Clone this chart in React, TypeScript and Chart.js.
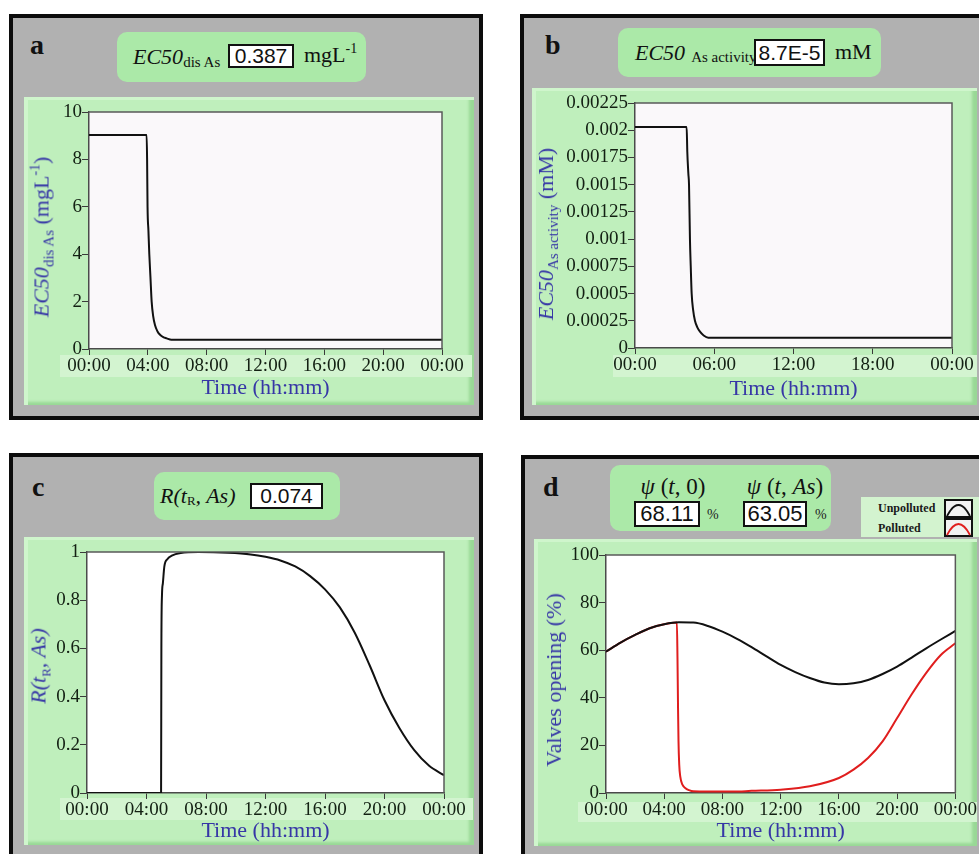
import React, { useEffect, useRef } from "react";
import { Chart, registerables } from "chart.js";

Chart.register(...registerables);

const SERIF = '"Liberation Serif", "Times New Roman", Times, serif';
const SANS = '"Liberation Sans", Arial, "DejaVu Sans", sans-serif';
const BLUE = "#3636a6";
const TICK_COLOR = "#132013";
const GRAY = "#b1b1b1";
const TITLE_GREEN = "#abe9a8";
const FRAME_GREEN = "#bfefbc";
const BAND_GREEN = "#d3f4d0";

// ---------- shared axis data ----------
const ticks4h = [0, 4, 8, 12, 16, 20, 24];
const labels4h = ["00:00", "04:00", "08:00", "12:00", "16:00", "20:00", "00:00"];
const ticks6h = [0, 6, 12, 18, 24];
const labels6h = ["00:00", "06:00", "12:00", "18:00", "00:00"];

// ---------- panel a ----------
const aHours = [0, 3.92, 3.95, 3.98, 4.04, 4.1, 4.18, 4.26, 4.36, 4.49, 4.65, 4.83, 5.05, 5.28, 5.6, 24];
const aEC50 = [9.03, 9.03, 8.0, 6.0, 5.0, 4.0, 3.0, 2.0, 1.4, 1.0, 0.75, 0.6, 0.5, 0.45, 0.39, 0.39];
const aYTicks = [0, 2, 4, 6, 8, 10];
const aYLabels = ["0", "2", "4", "6", "8", "10"];

// ---------- panel b ----------
const bHours = [0, 3.91, 3.96, 4.04, 4.09, 4.16, 4.22, 4.29, 4.4, 4.54, 4.72, 4.92, 5.2, 5.55, 24];
const bEC50 = [0.00203, 0.00203, 0.0018, 0.0016, 0.0015, 0.001, 0.00075, 0.0005, 0.00035, 0.00025, 0.00019, 0.00015, 0.000115, 0.0000946, 0.0000946];
const bYTicks = [0, 0.00025, 0.0005, 0.00075, 0.001, 0.00125, 0.0015, 0.00175, 0.002, 0.00225];
const bYLabels = ["0", "0.00025", "0.0005", "0.00075", "0.001", "0.00125", "0.0015", "0.00175", "0.002", "0.00225"];

// ---------- panel c ----------
const cHours = [0, 4.98, 5.0, 5.04, 5.1, 5.2, 5.4, 5.7, 6.3, 7.5, 9.5, 11, 12, 13, 14, 15, 16, 17, 18, 19, 20, 21, 22, 23, 24];
const cR = [0, 0, 0.6, 0.82, 0.87, 0.94, 0.97, 0.985, 0.996, 1.0, 0.997, 0.99, 0.98, 0.965, 0.94, 0.9, 0.845, 0.77, 0.665, 0.53, 0.385, 0.27, 0.178, 0.113, 0.074];
const cYTicks = [0, 0.2, 0.4, 0.6, 0.8, 1];
const cYLabels = ["0", "0.2", "0.4", "0.6", "0.8", "1"];

// ---------- panel d ----------
const dHours = [0, 1, 2, 3, 4, 5, 6, 7, 8, 9, 10, 11, 12, 13, 14, 15, 16, 17, 18, 19, 20, 21, 22, 23, 24];
const dUnpolluted = [59.4, 63.2, 66.4, 69.2, 70.9, 71.7, 71.6, 70.2, 67.8, 64.8, 61.3, 57.5, 53.8, 50.8, 48.3, 46.4, 45.7, 46.1, 47.5, 50.0, 53.1, 56.9, 60.8, 64.5, 68.1];
const dPollutedHours = [0, 1, 2, 3, 4, 4.87, 4.91, 4.95, 4.98, 5.03, 5.1, 5.25, 5.44, 5.7, 6, 7, 8.75, 10, 12, 14, 16, 17, 18, 19, 20, 21, 22, 23, 24];
const dPolluted = [59.4, 63.2, 66.4, 69.2, 70.9, 71.6, 57, 35, 22, 12, 7, 3.5, 2.1, 1.2, 0.7, 0.6, 0.6, 0.9, 1.4, 2.8, 6.3, 9.8, 14.7, 21.7, 31.5, 41.5, 50.5, 58, 62.9];
const dYTicks = [0, 20, 40, 60, 80, 100];
const dYLabels = ["0", "20", "40", "60", "80", "100"];

// ---------- chart plumbing ----------
type Series = { x: number[]; y: number[]; color: string };
type Spec = {
  left: number; top: number; width: number; height: number;
  series: Series[];
  xTicks: number[]; xLabels: string[];
  yTicks: number[]; yLabels: string[]; yMax: number;
  yAxisWidth: number; xAxisHeight: number; padTop: number; padRight: number;
  titlePad: number; plotBg: string;
};

const plotFrame = {
  id: "plotFrame",
  beforeDraw(chart: any, _a: any, opts: any) {
    const { ctx, chartArea: ca } = chart;
    ctx.save();
    ctx.fillStyle = opts.bg || "#fff";
    ctx.fillRect(ca.left, ca.top, ca.right - ca.left, ca.bottom - ca.top);
    ctx.restore();
  },
  afterDraw(chart: any) {
    const { ctx, chartArea: ca } = chart;
    ctx.save();
    ctx.strokeStyle = "#595959";
    ctx.lineWidth = 1.5;
    ctx.beginPath();
    ctx.moveTo(ca.left, ca.top);
    ctx.lineTo(ca.right, ca.top);
    ctx.lineTo(ca.right, ca.bottom);
    ctx.stroke();
    ctx.restore();
  },
};

function buildConfig(spec: Spec): any {
  const tickFont = { family: SERIF, size: 19 };
  return {
    type: "line",
    data: {
      datasets: spec.series.map((s) => ({
        data: s.x.map((x, i) => ({ x, y: s.y[i] })),
        borderColor: s.color,
        borderWidth: 2,
        pointRadius: 0,
        fill: false,
        cubicInterpolationMode: "monotone",
      })),
    },
    options: {
      animation: false,
      responsive: false,
      maintainAspectRatio: false,
      events: [],
      layout: { padding: { left: 0, top: spec.padTop, right: spec.padRight, bottom: 0 } },
      plugins: {
        legend: { display: false },
        tooltip: { enabled: false },
        plotFrame: { bg: spec.plotBg },
      },
      scales: {
        x: {
          type: "linear",
          min: 0,
          max: 24,
          afterBuildTicks: (s: any) => {
            s.ticks = spec.xTicks.map((v) => ({ value: v }));
          },
          afterFit: (s: any) => {
            s.height = spec.xAxisHeight;
          },
          ticks: {
            callback: (_v: any, i: number) => spec.xLabels[i],
            autoSkip: false,
            maxRotation: 0,
            color: TICK_COLOR,
            font: tickFont,
            padding: 0,
          },
          grid: { drawOnChartArea: false, drawTicks: true, tickLength: 6, color: "#3a3a3a", lineWidth: 1 },
          border: { display: true, color: "#4a4a4a", width: 1.5 },
          title: {
            display: true,
            text: "Time (hh:mm)",
            color: BLUE,
            font: { family: SERIF, size: 22 },
            padding: { top: 0, bottom: spec.titlePad },
          },
        },
        y: {
          type: "linear",
          min: 0,
          max: spec.yMax,
          afterBuildTicks: (s: any) => {
            s.ticks = spec.yTicks.map((v) => ({ value: v }));
          },
          afterFit: (s: any) => {
            s.width = spec.yAxisWidth;
          },
          ticks: {
            callback: (_v: any, i: number) => spec.yLabels[i],
            color: TICK_COLOR,
            font: tickFont,
            padding: 0,
          },
          grid: { drawOnChartArea: false, drawTicks: true, tickLength: 7, color: "#3a3a3a", lineWidth: 1 },
          border: { display: true, color: "#4a4a4a", width: 1.5 },
        },
      },
    },
    plugins: [plotFrame],
  };
}

function LineChart({ spec }: { spec: Spec }) {
  const ref = useRef<HTMLCanvasElement>(null);
  useEffect(() => {
    const chart = new Chart(ref.current as HTMLCanvasElement, buildConfig(spec));
    return () => chart.destroy();
  }, []);
  return (
    <canvas
      ref={ref}
      width={spec.width}
      height={spec.height}
      style={{ position: "absolute", left: spec.left, top: spec.top, width: spec.width, height: spec.height }}
    />
  );
}

// ---------- specs ----------
const specA: Spec = {
  left: 24, top: 97, width: 450, height: 308,
  series: [{ x: aHours, y: aEC50, color: "#111" }],
  xTicks: ticks4h, xLabels: labels4h, yTicks: aYTicks, yLabels: aYLabels, yMax: 10,
  yAxisWidth: 65, xAxisHeight: 56, padTop: 15, padRight: 32, titlePad: 4, plotBg: "#faf8fa",
};
const specB: Spec = {
  left: 532, top: 88, width: 445, height: 317,
  series: [{ x: bHours, y: bEC50, color: "#111" }],
  xTicks: ticks6h, xLabels: labels6h, yTicks: bYTicks, yLabels: bYLabels, yMax: 0.00225,
  yAxisWidth: 103, xAxisHeight: 57, padTop: 15, padRight: 25, titlePad: 3, plotBg: "#faf8fa",
};
const specC: Spec = {
  left: 24, top: 537, width: 450, height: 308,
  series: [{ x: cHours, y: cR, color: "#111" }],
  xTicks: ticks4h, xLabels: labels4h, yTicks: cYTicks, yLabels: cYLabels, yMax: 1,
  yAxisWidth: 63, xAxisHeight: 52, padTop: 15, padRight: 30, titlePad: 1, plotBg: "#ffffff",
};
const specD: Spec = {
  left: 534, top: 539, width: 443, height: 307,
  series: [
    { x: dHours, y: dUnpolluted, color: "#111" },
    { x: dPollutedHours, y: dPolluted, color: "#e01e1e" },
  ],
  xTicks: ticks4h, xLabels: labels4h, yTicks: dYTicks, yLabels: dYLabels, yMax: 100,
  yAxisWidth: 72, xAxisHeight: 53, padTop: 16, padRight: 21, titlePad: 2, plotBg: "#ffffff",
};

// ---------- html helpers ----------
const abs = (left: number, top: number, width?: number, height?: number): React.CSSProperties => ({
  position: "absolute", left, top, width, height,
});

function Outer({ left, top, width, height }: { left: number; top: number; width: number; height: number }) {
  return (
    <div style={{ ...abs(left, top, width, height), boxSizing: "border-box", border: "4px solid #0c0c0c", background: GRAY }} />
  );
}

function Frame({ left, top, width, height }: { left: number; top: number; width: number; height: number }) {
  return (
    <div
      style={{
        ...abs(left, top, width, height),
        background: FRAME_GREEN,
        boxShadow: "inset 4px 3px 0 #cff5cc, inset -5px -3px 3px #98d895",
      }}
    />
  );
}

function Band({ left, top, width, height }: { left: number; top: number; width: number; height: number }) {
  return <div style={{ ...abs(left, top, width, height), background: BAND_GREEN }} />;
}

function ValueBox({ left, top, width, height, text, size }: { left: number; top: number; width: number; height: number; text: string; size: number }) {
  return (
    <div
      style={{
        ...abs(left, top, width, height),
        boxSizing: "border-box",
        border: "2px solid #111",
        background: "#fff",
        fontFamily: SANS,
        fontSize: size,
        lineHeight: `${height - 4}px`,
        textAlign: "center",
        color: "#111",
        whiteSpace: "nowrap",
      }}
    >
      {text}
    </div>
  );
}

function YTitle({ cx, cy, children }: { cx: number; cy: number; children: React.ReactNode }) {
  return (
    <div
      style={{
        position: "absolute",
        left: cx,
        top: cy,
        transform: "translate(-50%, -50%) rotate(-90deg)",
        whiteSpace: "nowrap",
        color: BLUE,
        fontFamily: SERIF,
        fontSize: 22,
        lineHeight: "24px",
      }}
    >
      {children}
    </div>
  );
}

function PanelLetter({ left, baseline, text }: { left: number; baseline: number; text: string }) {
  return (
    <div style={{ ...abs(left, baseline - 25), fontFamily: SERIF, fontWeight: "bold", fontSize: 28, lineHeight: "30px", color: "#111" }}>
      {text}
    </div>
  );
}

const sub = (text: string, size = 15, top = 5): React.ReactNode => (
  <span style={{ fontSize: size, position: "relative", top, fontStyle: "normal" }}>{text}</span>
);

function LegendIcon({ left, top, color }: { left: number; top: number; color: string }) {
  return (
    <svg style={{ position: "absolute", left, top }} width={29} height={19} viewBox="0 0 29 19">
      <rect x={1} y={1} width={27} height={17} fill="#f2f2f2" stroke="#111" strokeWidth={2} />
      <path d="M3 17 Q14.5 -5 26 17" fill="none" stroke={color} strokeWidth={1.8} />
    </svg>
  );
}

export default function App() {
  return (
    <div style={{ position: "absolute", left: 0, top: 0, width: 979, height: 854, overflow: "hidden", background: "#fff", fontFamily: SERIF }}>
      {/* ---------------- panel a ---------------- */}
      <Outer left={9} top={14} width={474} height={406} />
      <PanelLetter left={30} baseline={55} text="a" />
      <div style={{ ...abs(117, 32, 249, 50), background: TITLE_GREEN, borderRadius: 10, display: "flex", alignItems: "center", paddingLeft: 16, boxSizing: "border-box", fontSize: 22, color: "#111" }}>
        <span style={{ fontStyle: "italic" }}>EC50</span>
        {sub("dis As")}
      </div>
      <ValueBox left={228} top={44} width={66} height={24} text="0.387" size={21} />
      <div style={{ ...abs(304, 41), fontSize: 22, lineHeight: "28px", color: "#111", whiteSpace: "nowrap" }}>
        mgL<span style={{ fontSize: 14, position: "relative", top: -9 }}>-1</span>
      </div>
      <Frame left={24} top={97} width={450} height={308} />
      <Band left={60} top={355} width={412} height={22} />
      <LineChart spec={specA} />
      <YTitle cx={43} cy={237}>
        <i>EC50</i>
        {sub("dis As", 15, 5)} (mgL<span style={{ fontSize: 14, position: "relative", top: -9 }}>-1</span>)
      </YTitle>

      {/* ---------------- panel b ---------------- */}
      <Outer left={520} top={14} width={474} height={406} />
      <PanelLetter left={545} baseline={55} text="b" />
      <div style={{ ...abs(618, 28, 263, 49), background: TITLE_GREEN, borderRadius: 10, display: "flex", alignItems: "center", paddingLeft: 17, boxSizing: "border-box", fontSize: 22, color: "#111" }}>
        <span style={{ fontStyle: "italic" }}>EC50</span>
        <span style={{ fontSize: 15, position: "relative", top: 5, marginLeft: 6 }}>As activity</span>
      </div>
      <ValueBox left={754} top={39} width={71} height={27} text="8.7E-5" size={21} />
      <div style={{ ...abs(835, 38), fontSize: 22, lineHeight: "28px", color: "#111" }}>mM</div>
      <Frame left={532} top={88} width={445} height={317} />
      <Band left={613} top={355} width={364} height={22} />
      <LineChart spec={specB} />
      <YTitle cx={547} cy={234}>
        <i>EC50</i>
        {sub("As activity", 15, 5)} (mM)
      </YTitle>

      {/* ---------------- panel c ---------------- */}
      <Outer left={9} top={453} width={474} height={420} />
      <PanelLetter left={32} baseline={497} text="c" />
      <div style={{ ...abs(154, 472, 186, 48), background: TITLE_GREEN, borderRadius: 10, display: "flex", alignItems: "center", paddingLeft: 6, boxSizing: "border-box", fontSize: 22, color: "#111", fontStyle: "italic" }}>
        R(t{sub("R", 13, 5)}, As)
      </div>
      <ValueBox left={250} top={483} width={73} height={26} text="0.074" size={21} />
      <Frame left={24} top={537} width={450} height={308} />
      <Band left={60} top={798} width={413} height={22} />
      <LineChart spec={specC} />
      <YTitle cx={40} cy={666}>
        <i>
          R(t{sub("R", 13, 5)}, As)
        </i>
      </YTitle>

      {/* ---------------- panel d ---------------- */}
      <Outer left={521} top={455} width={474} height={420} />
      <PanelLetter left={543} baseline={497} text="d" />
      <div style={{ ...abs(610, 465, 221, 66), background: TITLE_GREEN, borderRadius: 10 }} />
      <div style={{ ...abs(623, 474, 100), textAlign: "center", fontSize: 23, lineHeight: "26px", color: "#111", whiteSpace: "nowrap" }}>
        <i>ψ</i> (<i>t</i>, 0)
      </div>
      <div style={{ ...abs(735, 474, 100), textAlign: "center", fontSize: 23, lineHeight: "26px", color: "#111", whiteSpace: "nowrap" }}>
        <i>ψ</i> (<i>t</i>, <i>As</i>)
      </div>
      <ValueBox left={634} top={501} width={66} height={26} text="68.11" size={22} />
      <ValueBox left={743} top={501} width={64} height={26} text="63.05" size={22} />
      <div style={{ ...abs(707, 507), fontSize: 14, lineHeight: "16px", color: "#222" }}>%</div>
      <div style={{ ...abs(815, 507), fontSize: 14, lineHeight: "16px", color: "#222" }}>%</div>
      <div style={{ ...abs(861, 497, 118, 40), background: "#d3f3cf" }} />
      <div style={{ ...abs(878, 501), fontSize: 12, fontWeight: "bold", lineHeight: "14px", color: "#1a1a1a" }}>Unpolluted</div>
      <div style={{ ...abs(878, 521), fontSize: 12, fontWeight: "bold", lineHeight: "14px", color: "#1a1a1a" }}>Polluted</div>
      <LegendIcon left={944} top={499} color="#111" />
      <LegendIcon left={944} top={518} color="#e01e1e" />
      <Frame left={534} top={539} width={443} height={307} />
      <Band left={578} top={802} width={399} height={20} />
      <LineChart spec={specD} />
      <YTitle cx={554} cy={680}>Valves opening (%)</YTitle>
    </div>
  );
}
